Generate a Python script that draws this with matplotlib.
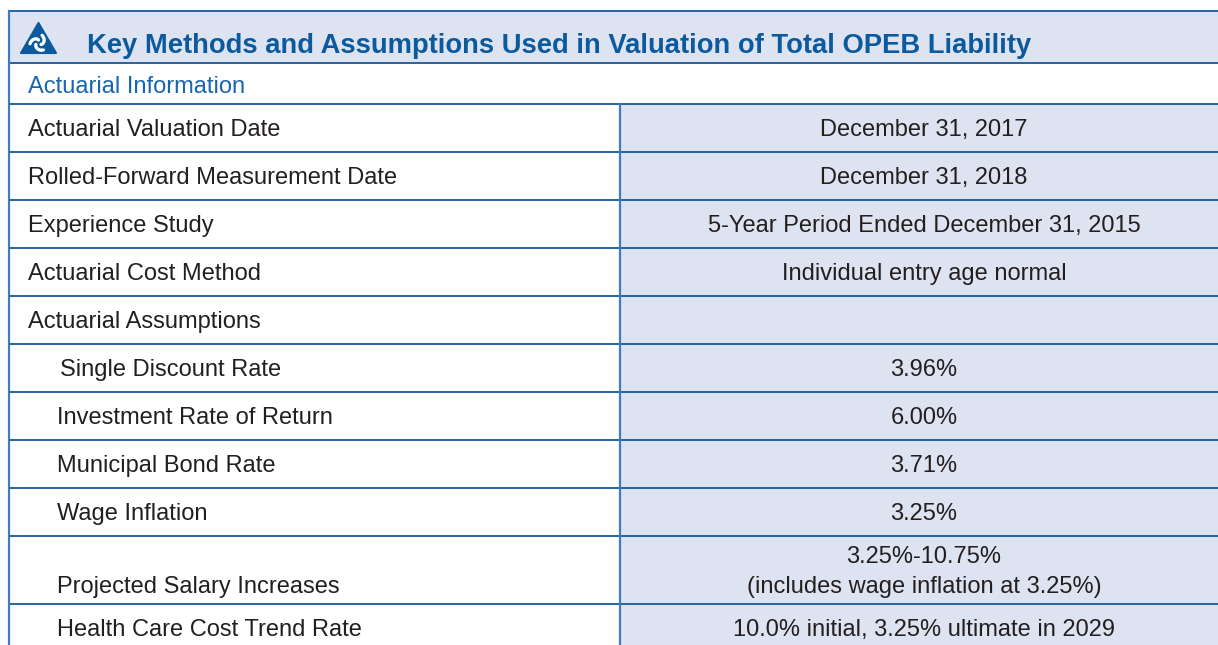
import matplotlib.pyplot as plt
import matplotlib.patches as mpatches
import numpy as np

plt.rcParams['font.family'] = ['Liberation Sans', 'DejaVu Sans']

# ---------------------------------------------------

title = 'Key Methods and Assumptions Used in Valuation of Total OPEB Liability'
section = 'Actuarial Information'
labels = ['Actuarial Valuation Date', 'Rolled-Forward Measurement Date', 'Experience Study',
          'Actuarial Cost Method', 'Actuarial Assumptions', 'Single Discount Rate',
          'Investment Rate of Return', 'Municipal Bond Rate', 'Wage Inflation',
          'Projected Salary Increases', 'Health Care Cost Trend Rate']
values = ['December 31, 2017', 'December 31, 2018', '5-Year Period Ended December 31, 2015',
          'Individual entry age normal', '', '3.96%', '6.00%', '3.71%', '3.25%',
          '3.25%-10.75%\n(includes wage inflation at 3.25%)',
          '10.0% initial, 3.25% ultimate in 2029']

# ---------------------------------------------------

W, H = 1218, 645
blue = '#0b5a9e'
line_c = '#2563a3'
fill_c = '#dde3f0'
txt_c = '#231f20'
fs = 17

fig = plt.figure(figsize=(W / 100, H / 100), dpi=100)
ax = fig.add_axes([0, 0, 1, 1])
ax.set_xlim(0, W)
ax.set_ylim(H, 0)
ax.axis('off')

left, mid = 9, 620
top, head_b, sec_b = 11, 63, 104
row_h = [48] * 9 + [68, 48]
edges = [sec_b]
for h in row_h:
    edges.append(edges[-1] + h)

# header band
ax.add_patch(mpatches.Rectangle((left, top), W - left, head_b - top, fc=fill_c, ec='none'))
# right column fill
ax.add_patch(mpatches.Rectangle((mid, sec_b), W - mid, edges[-1] - sec_b, fc=fill_c, ec='none'))

# logo
tri = np.array([[38.5, 23], [21, 53], [56, 53]])
ax.add_patch(mpatches.Polygon(tri, closed=True, fc=blue, ec=blue, lw=1.5, joinstyle='round'))
cx, cy = 38.5, 43
for k in range(3):
    a0 = np.deg2rad(90 + 120 * k)
    t = np.linspace(a0, a0 + np.deg2rad(95), 20)
    r = np.linspace(3.0, 8.5, 20)
    ax.plot(cx + r * np.cos(t), cy - r * np.sin(t), color='white', lw=2.4, solid_capstyle='round')

ax.text(87, 46, title, fontsize=19.7, fontweight='bold', color=blue, va='center', ha='left')
ax.text(28, 87, section, fontsize=17, color='#1766b2', va='center', ha='left')

# lines
for y in [top, head_b, sec_b] + edges[1:]:
    ax.plot([left, W], [y, y], color=line_c, lw=1.4, solid_capstyle='butt')
ax.plot([left, left], [top, H], color='#3f7bbd', lw=1.6)
ax.plot([mid, mid], [sec_b, H], color='#3f7bbd', lw=1.6)

indent = [28, 28, 28, 28, 28, 60, 57, 57, 57, 57, 57]
for i, (lab, val) in enumerate(zip(labels, values)):
    y0, y1 = edges[i], edges[i + 1]
    if '\n' in val:
        ax.text(indent[i], y1 - 17, lab, fontsize=fs, color=txt_c, va='center', ha='left')
        for j, part in enumerate(val.split('\n')):
            ax.text(924, y0 + 21 + 30 * j, part, fontsize=fs, color=txt_c, va='center', ha='center')
    else:
        yc = (y0 + y1) / 2 + 2
        ax.text(indent[i], yc, lab, fontsize=fs, color=txt_c, va='center', ha='left')
        ax.text(924, yc, val, fontsize=fs, color=txt_c, va='center', ha='center')

fig.savefig('out.png', dpi=100)
